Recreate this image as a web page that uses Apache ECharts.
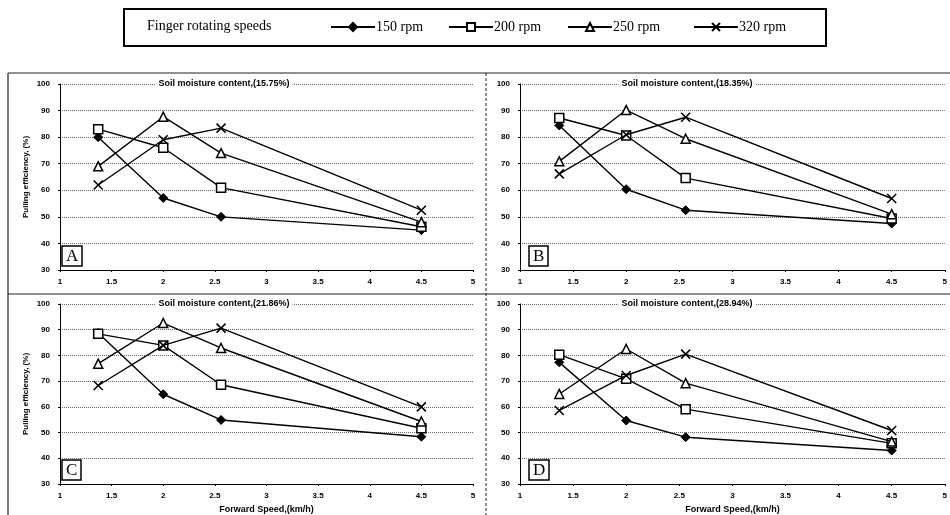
<!DOCTYPE html>
<html>
<head>
<meta charset="utf-8">
<script src="https://cdn.jsdelivr.net/npm/echarts@6/dist/echarts.min.js"></script>
<style>
  html, body { margin: 0; padding: 0; background: #fff; }
  #main { width: 950px; height: 515px; }
</style>
</head>
<body>
<div id="main"></div>
<script>
// forward speeds (km/h)
const speeds = [1.37, 2, 2.56, 4.5]
const xTicks = ['1', '1.5', '2', '2.5', '3', '3.5', '4', '4.5', '5']
const rpmNames = ['150 rpm', '200 rpm', '250 rpm', '320 rpm']
const panelLetters = ['A', 'B', 'C', 'D']
const moisture = ['15.75%', '18.35%', '21.86%', '28.94%']

// pulling efficiency (%) per panel, per finger speed
const a150 = [80, 57.1, 50, 45]
const a200 = [83, 76, 61, 46.3]
const a250 = [69, 87.7, 74, 48]
const a320 = [62, 79, 83.4, 52.5]

const b150 = [84.4, 60.4, 52.5, 47.5]
const b200 = [87.2, 80.6, 64.6, 49.4]
const b250 = [70.9, 90.2, 79.4, 51]
const b320 = [66.2, 80.9, 87.5, 56.9]

const c150 = [88.7, 64.9, 54.9, 48.4]
const c200 = [88.4, 83.9, 68.6, 51.7]
const c250 = [76.8, 92.6, 82.9, 54.3]
const c320 = [68.3, 83.9, 90.6, 60]

const d150 = [77.3, 54.7, 48.2, 43]
const d200 = [80.3, 70.9, 59.1, 45.8]
const d250 = [65, 82.5, 69.2, 46.5]
const d320 = [58.6, 72.2, 80.5, 50.8]

const panels = [
  [a150, a200, a250, a320],
  [b150, b200, b250, b320],
  [c150, c200, c250, c320],
  [d150, d200, d250, d320]
]

const crossPath = 'path://M0,0L10,10M10,0L0,10'
const markers = [
  { symbol: 'diamond', symbolSize: 9, itemStyle: { color: '#000', borderColor: '#000', borderWidth: 1 } },
  { symbol: 'rect', symbolSize: 9, itemStyle: { color: '#fff', borderColor: '#000', borderWidth: 1.5 } },
  { symbol: 'triangle', symbolSize: 9, itemStyle: { color: '#fff', borderColor: '#000', borderWidth: 1.5 } },
  { symbol: crossPath, symbolSize: 9, itemStyle: { color: '#000', borderColor: '#000', borderWidth: 1.6 } }
]

const grids = [
  { left: 60, top: 84, width: 413, height: 186 },
  { left: 520, top: 84, width: 427, height: 186 },
  { left: 60, top: 304, width: 413, height: 180 },
  { left: 520, top: 304, width: 427, height: 180 }
]

const tickFont = { fontFamily: 'Liberation Sans', fontWeight: 'bold', fontSize: 8, color: '#000' }

let xAxes = []
let yAxes = []
let series = []
let titles = []
let graphics = []

grids.forEach((g, i) => {
  xAxes.push({
    gridIndex: i,
    type: 'value',
    min: 1,
    max: 5,
    interval: 0.5,
    name: i >= 2 ? 'Forward Speed,(km/h)' : '',
    nameLocation: 'middle',
    nameGap: 21,
    nameTextStyle: { fontFamily: 'Liberation Sans', fontWeight: 'bold', fontSize: 9, color: '#000' },
    axisLine: { lineStyle: { color: '#000', width: 1 } },
    axisTick: { show: true, length: 2, lineStyle: { color: '#000' } },
    axisLabel: Object.assign({ margin: 8, formatter: v => xTicks[Math.round((v - 1) * 2)] }, tickFont),
    splitLine: { show: false }
  })
  yAxes.push({
    gridIndex: i,
    type: 'value',
    min: 30,
    max: 100,
    interval: 10,
    name: i % 2 === 0 ? 'Pulling efficiency, (%)' : '',
    nameLocation: 'middle',
    nameGap: 30,
    nameTextStyle: { fontFamily: 'Liberation Sans', fontWeight: 'bold', fontSize: 8, color: '#000' },
    axisLine: { show: true, lineStyle: { color: '#000', width: 1 } },
    axisTick: { show: true, length: 2, lineStyle: { color: '#000' } },
    axisLabel: Object.assign({ margin: 10 }, tickFont),
    splitLine: { show: true, lineStyle: { color: '#666', type: 'dotted', width: 1 } }
  })
  panels[i].forEach((vals, k) => {
    series.push(Object.assign({
      name: rpmNames[k],
      type: 'line',
      xAxisIndex: i,
      yAxisIndex: i,
      data: vals.map((v, j) => [speeds[j], v]),
      lineStyle: { color: '#000', width: 1.4 },
      showAllSymbol: true,
      animation: false,
      z: 3 + k
    }, markers[k]))
  })
  titles.push({
    text: 'Soil moisture content,(' + moisture[i] + ')',
    left: g.left + g.width / 2 - 218 / 2 + (i % 2 === 0 ? -2 : -6),
    top: g.top - 6,
    padding: [1, 3],
    backgroundColor: '#fff',
    textStyle: { fontFamily: 'Liberation Sans', fontWeight: 'bold', fontSize: 9, color: '#000' }
  })
  // boxed panel letter
  titles.push({
    text: panelLetters[i],
    left: g.left + (i % 2 === 0 ? 2 : 9),
    top: g.top + g.height - 24,
    padding: [1, 4, 0, 4],
    borderColor: '#000',
    borderWidth: 1.5,
    backgroundColor: '#fff',
    textStyle: { fontFamily: 'Liberation Serif', fontWeight: 'normal', fontSize: 17, color: '#000', lineHeight: 19 }
  })
})

// legend, one per item so each sits where it does in the figure
const legendLeft = [325, 443, 562, 688]
const legends = rpmNames.map((n, k) => ({
  data: [n],
  left: legendLeft[k],
  top: 15,
  itemWidth: 44,
  itemHeight: 10,
  itemGap: 0,
  textStyle: { fontFamily: 'Liberation Serif', fontSize: 14, color: '#000', padding: [0, 0, 0, -4] },
  selectedMode: false
}))

// frames
graphics.push(
  { type: 'rect', shape: { x: 124, y: 9, width: 702, height: 37 }, style: { fill: 'none', stroke: '#000', lineWidth: 2 } },
  { type: 'text', left: 147, top: 19, style: { text: 'Finger rotating speeds', font: '14px "Liberation Serif"', fill: '#000' } },
  { type: 'line', shape: { x1: 8, y1: 73, x2: 950, y2: 73 }, style: { stroke: '#222', lineWidth: 1.2 } },
  { type: 'line', shape: { x1: 8, y1: 294, x2: 950, y2: 294 }, style: { stroke: '#222', lineWidth: 1.2 } },
  { type: 'line', shape: { x1: 8, y1: 73, x2: 8, y2: 515 }, style: { stroke: '#222', lineWidth: 1.2 } },
  { type: 'line', shape: { x1: 486, y1: 73, x2: 486, y2: 515 }, style: { stroke: '#222', lineWidth: 1, lineDash: [3, 2] } }
)

const option = {
  backgroundColor: '#fff',
  animation: false,
  title: titles,
  legend: legends,
  grid: grids,
  xAxis: xAxes,
  yAxis: yAxes,
  series: series,
  graphic: graphics
}

const chart = echarts.init(document.getElementById('main'))
chart.setOption(option)
</script>
</body>
</html>
